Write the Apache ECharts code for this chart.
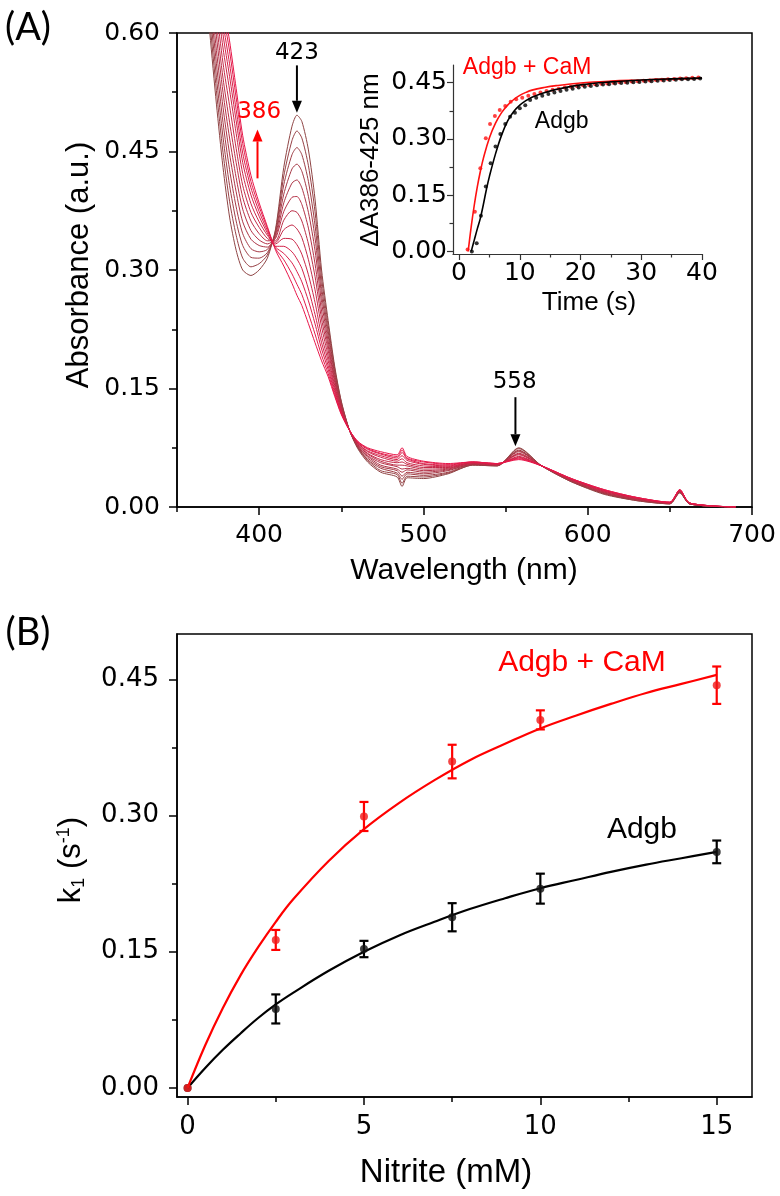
<!DOCTYPE html>
<html><head><meta charset="utf-8">
<script src="https://cdn.jsdelivr.net/npm/echarts@6/dist/echarts.min.js"></script>
<style>html,body{margin:0;padding:0;background:#fff}#c{width:780px;height:1196px}</style>
</head><body><div id="c"></div>
<script>
// ---------- Panel A: spectra ----------
const wavelengths = [366,370,374,378,382,386,390,395,400,405,410,415,420,423,426,430,434,438,442,446,450,455,460,466,474,484,487,490,500,515,530,545,558,572,590,610,630,650,656,662,690];
const spec0  = [0.70,0.60,0.51,0.43,0.367,0.325,0.300,0.293,0.300,0.315,0.352,0.43,0.482,0.496,0.488,0.452,0.39,0.30,0.236,0.178,0.134,0.097,0.074,0.057,0.044,0.038,0.026,0.037,0.036,0.042,0.053,0.052,0.075,0.052,0.032,0.016,0.008,0.004,0.018,0.004,0];
const spec1  = [0.714,0.615,0.527,0.449,0.387,0.344,0.315,0.304,0.308,0.319,0.350,0.419,0.464,0.476,0.467,0.432,0.374,0.290,0.230,0.175,0.133,0.097,0.075,0.059,0.046,0.041,0.030,0.039,0.038,0.043,0.053,0.052,0.074,0.052,0.032,0.017,0.008,0.004,0.018,0.004,0];
const spec2  = [0.727,0.631,0.544,0.468,0.407,0.362,0.331,0.316,0.315,0.322,0.347,0.408,0.446,0.455,0.446,0.412,0.357,0.279,0.223,0.171,0.131,0.097,0.076,0.060,0.049,0.043,0.035,0.042,0.040,0.044,0.054,0.053,0.072,0.052,0.033,0.017,0.009,0.004,0.019,0.004,0];
const spec3  = [0.741,0.646,0.561,0.487,0.427,0.380,0.346,0.327,0.323,0.326,0.345,0.396,0.428,0.434,0.425,0.393,0.341,0.269,0.217,0.168,0.129,0.097,0.076,0.062,0.051,0.046,0.039,0.044,0.042,0.046,0.054,0.053,0.071,0.052,0.033,0.018,0.009,0.005,0.019,0.004,0];
const spec4  = [0.754,0.661,0.578,0.506,0.447,0.399,0.361,0.339,0.331,0.329,0.342,0.385,0.410,0.414,0.404,0.373,0.325,0.259,0.210,0.164,0.128,0.097,0.077,0.064,0.053,0.048,0.044,0.047,0.044,0.047,0.054,0.053,0.070,0.052,0.033,0.018,0.009,0.005,0.019,0.004,0];
const spec5  = [0.768,0.677,0.596,0.525,0.467,0.417,0.377,0.350,0.338,0.333,0.340,0.374,0.392,0.393,0.383,0.353,0.308,0.248,0.204,0.161,0.126,0.097,0.078,0.065,0.056,0.051,0.048,0.049,0.046,0.048,0.055,0.053,0.068,0.052,0.034,0.019,0.010,0.005,0.020,0.004,0];
const spec6  = [0.781,0.692,0.613,0.543,0.487,0.436,0.392,0.362,0.346,0.337,0.337,0.363,0.375,0.373,0.362,0.333,0.292,0.238,0.198,0.158,0.125,0.097,0.079,0.067,0.058,0.053,0.053,0.052,0.048,0.049,0.055,0.054,0.067,0.052,0.034,0.019,0.010,0.005,0.020,0.005,0];
const spec7  = [0.795,0.707,0.630,0.562,0.508,0.454,0.407,0.373,0.354,0.340,0.335,0.351,0.357,0.352,0.341,0.313,0.275,0.228,0.191,0.154,0.123,0.097,0.080,0.068,0.060,0.056,0.057,0.054,0.050,0.050,0.056,0.054,0.066,0.052,0.035,0.020,0.011,0.005,0.021,0.005,0];
const spec8  = [0.808,0.722,0.647,0.581,0.528,0.473,0.422,0.384,0.361,0.344,0.333,0.340,0.339,0.332,0.320,0.294,0.259,0.217,0.185,0.151,0.122,0.097,0.081,0.070,0.063,0.058,0.061,0.056,0.052,0.051,0.056,0.054,0.064,0.052,0.035,0.020,0.011,0.005,0.021,0.005,0];
const spec9  = [0.820,0.736,0.662,0.598,0.545,0.489,0.436,0.395,0.368,0.347,0.330,0.330,0.323,0.314,0.302,0.276,0.244,0.208,0.179,0.148,0.120,0.097,0.081,0.071,0.065,0.060,0.065,0.059,0.054,0.052,0.056,0.054,0.063,0.052,0.035,0.021,0.011,0.006,0.021,0.005,0];
const spec10 = [0.831,0.748,0.675,0.613,0.561,0.503,0.448,0.404,0.374,0.350,0.329,0.321,0.309,0.298,0.285,0.261,0.232,0.200,0.174,0.145,0.119,0.097,0.082,0.073,0.067,0.062,0.069,0.061,0.055,0.053,0.057,0.055,0.062,0.052,0.036,0.021,0.012,0.006,0.022,0.005,0];
const spec11 = [0.841,0.760,0.689,0.627,0.577,0.518,0.460,0.412,0.380,0.353,0.327,0.313,0.295,0.282,0.269,0.245,0.219,0.192,0.169,0.142,0.118,0.097,0.083,0.074,0.068,0.064,0.072,0.062,0.057,0.054,0.057,0.055,0.061,0.052,0.036,0.022,0.012,0.006,0.022,0.005,0];
const spec12 = [0.85,0.77,0.70,0.64,0.59,0.53,0.47,0.42,0.385,0.355,0.325,0.305,0.283,0.268,0.255,0.232,0.208,0.185,0.165,0.14,0.117,0.097,0.083,0.075,0.07,0.066,0.075,0.064,0.058,0.055,0.057,0.055,0.06,0.052,0.036,0.022,0.012,0.006,0.022,0.005,0];
const spectra = [spec0,spec1,spec2,spec3,spec4,spec5,spec6,spec7,spec8,spec9,spec10,spec11,spec12];
const specColors = ['#8e4444','#964045','#9d3d45','#a53946','#ac3546','#b43147','#bb2e47','#c32a48','#ca2648','#d22249','#d91f49','#e11b4a','#e8174a'];
const specXTicks = [400,500,600,700];
const specXMinor = [350,450,550,650];
const specYTicks = [0,0.15,0.30,0.45,0.60];
const specYMinor = [0.075,0.225,0.375,0.525];

// ---------- Panel A inset: kinetics ----------
const camT = [1.4,2.6,3.5,4.4,5.1,5.9,6.7,7.6,8.5,9.4,10.4,11.4,12.4,13.4,14.4,15.4,16.4,17.4,18.4,19.4,20.4,21.4,22.4,23.4,24.4,25.4,26.4,27.4,28.4,29.4,30.4,31.4,32.4,33.4,34.4,35.4,36.4,37.4,38.4,39.4];
const camA = [0.005,0.106,0.222,0.302,0.34,0.361,0.377,0.388,0.399,0.406,0.41,0.415,0.42,0.424,0.428,0.431,0.434,0.437,0.439,0.441,0.443,0.444,0.446,0.447,0.448,0.45,0.451,0.452,0.453,0.454,0.455,0.456,0.457,0.458,0.459,0.46,0.461,0.462,0.463,0.464];
const adgbT = [2.1,2.9,3.6,4.4,5.2,6.0,6.8,7.6,8.4,9.2,10.0,10.9,11.7,12.7,13.7,14.7,15.7,16.7,17.7,18.7,19.7,20.7,21.7,22.7,23.7,24.7,25.7,26.7,27.7,28.7,29.7,30.7,31.7,32.7,33.7,34.7,35.7,36.7,37.7,38.7,39.7];
const adgbA = [0.0,0.022,0.095,0.173,0.235,0.28,0.313,0.34,0.359,0.37,0.382,0.39,0.404,0.41,0.415,0.42,0.424,0.428,0.431,0.434,0.437,0.439,0.441,0.443,0.445,0.446,0.448,0.449,0.45,0.451,0.452,0.453,0.454,0.455,0.456,0.457,0.458,0.459,0.459,0.46,0.461];
const camFitT = [1.5,2,2.5,3,3.5,4,5,6,7,8,9,10,11,12,14,16,20,25,30,35,40];
const camFitA = [0,0.066,0.123,0.172,0.213,0.248,0.303,0.342,0.37,0.39,0.405,0.416,0.424,0.43,0.437,0.442,0.449,0.454,0.457,0.46,0.462];
const adgbFitT = [2,2.5,3,3.5,4,4.5,5,6,7,8,9,10,11,12,14,16,20,25,30,35,40];
const adgbFitA = [0,0.03,0.06,0.088,0.125,0.165,0.2,0.26,0.31,0.348,0.373,0.39,0.402,0.411,0.423,0.432,0.444,0.452,0.457,0.46,0.462];
const insetXTicks = [0,10,20,30,40];
const insetXMinor = [5,15,25,35];
const insetYTicks = [0,0.15,0.30,0.45];
const insetYMinor = [0.075,0.225,0.375];

// ---------- Panel B: k1 vs nitrite ----------
const nitrite = [0,2.5,5,7.5,10,15];
const k1Adgb = [0,0.087,0.153,0.188,0.2195,0.26];
const errAdgb = [0,0.016,0.009,0.0155,0.0165,0.0125];
const k1CaM = [0,0.163,0.299,0.3595,0.4054,0.4436];
const errCaM = [0,0.011,0.016,0.0185,0.0105,0.0206];
const fitX = [0,0.5,1,1.5,2,2.5,3,4,5,6,7,8,9,10,11,12,13,14,15];
const fitCaM = [0,0.047,0.088,0.124,0.155,0.183,0.208,0.25,0.285,0.314,0.339,0.361,0.379,0.396,0.41,0.423,0.435,0.445,0.455];
const fitAdgb = [0,0.022,0.042,0.06,0.077,0.092,0.105,0.129,0.15,0.168,0.183,0.197,0.209,0.22,0.229,0.238,0.246,0.253,0.26];
const bXTicks = [0,5,10,15];
const bXMinor = [2.5,7.5,12.5];
const bYTicks = [0,0.15,0.30,0.45];
const bYMinor = [0.075,0.225,0.375];

// ---------- helpers ----------
const FT = 'DejaVu Sans';
const FA = 'Liberation Sans';
const zip = (a, b) => a.map((v, i) => [v, b[i]]);
const lineSt = (c, w) => ({color: c, width: w});

function majorAxis(kind, grid, min, max, ticks, tickLen, fontSize, margin, fmt, lineW, color) {
  return {
    type: 'value', gridIndex: grid, min: min, max: max,
    position: kind === 'x' ? 'bottom' : 'left',
    axisLine: {show: true, onZero: false, lineStyle: lineSt(color, lineW)},
    axisTick: {show: true, inside: false, customValues: ticks, length: tickLen, lineStyle: lineSt(color, lineW)},
    axisLabel: {show: true, customValues: ticks, margin: margin, fontSize: fontSize, fontFamily: FT, color: '#000', formatter: fmt},
    splitLine: {show: false}
  };
}
function minorAxis(kind, grid, min, max, ticks, tickLen, lineW, color) {
  return {
    type: 'value', gridIndex: grid, min: min, max: max,
    position: kind === 'x' ? 'bottom' : 'left',
    axisLine: {show: false, onZero: false},
    axisTick: {show: true, inside: false, customValues: ticks, length: tickLen, lineStyle: lineSt(color, lineW)},
    axisLabel: {show: false},
    splitLine: {show: false}
  };
}
const f2 = v => v.toFixed(2);
const f0 = v => String(Math.round(v));

function errRender(color) {
  return function (params, api) {
    const x = api.value(0), lo = api.value(1), hi = api.value(2);
    if (hi - lo <= 0) return null;
    const p1 = api.coord([x, hi]), p2 = api.coord([x, lo]);
    const w = 4.5;
    const st = {stroke: color, lineWidth: 2.2};
    return {type: 'group', children: [
      {type: 'line', shape: {x1: p1[0], y1: p1[1], x2: p2[0], y2: p2[1]}, style: st},
      {type: 'line', shape: {x1: p1[0] - w, y1: p1[1], x2: p1[0] + w, y2: p1[1]}, style: st},
      {type: 'line', shape: {x1: p2[0] - w, y1: p2[1], x2: p2[0] + w, y2: p2[1]}, style: st}
    ]};
  };
}

const series = [];
spectra.forEach((s, i) => {
  series.push({type: 'line', xAxisIndex: 0, yAxisIndex: 0, data: zip(wavelengths, s), showSymbol: false,
    smooth: 0.25, clip: true, lineStyle: {color: specColors[i], width: 1}, z: 2 + i * 0.01, silent: true});
});
// inset (series 13..16)
series.push({type: 'scatter', xAxisIndex: 2, yAxisIndex: 2, data: zip(camT, camA), symbol: 'circle', symbolSize: 4, itemStyle: {color: '#ff1010'}, z: 5});
series.push({type: 'line', xAxisIndex: 2, yAxisIndex: 2, data: zip(camFitT, camFitA), showSymbol: false, smooth: 0.4, lineStyle: {color: '#ff1010', width: 1.6}, z: 5});
series.push({type: 'scatter', xAxisIndex: 2, yAxisIndex: 2, data: zip(adgbT, adgbA), symbol: 'circle', symbolSize: 4, itemStyle: {color: '#000'}, z: 6});
series.push({type: 'line', xAxisIndex: 2, yAxisIndex: 2, data: zip(adgbFitT, adgbFitA), showSymbol: false, smooth: 0.4, lineStyle: {color: '#000', width: 1.6}, z: 6});
// panel B (series 17..)
series.push({type: 'line', xAxisIndex: 4, yAxisIndex: 4, data: zip(fitX, fitAdgb), showSymbol: false, smooth: 0.4, lineStyle: {color: '#000', width: 2.2}, z: 5});
series.push({type: 'custom', xAxisIndex: 4, yAxisIndex: 4, renderItem: errRender('#000'),
  data: nitrite.map((x, i) => [x, k1Adgb[i] - errAdgb[i], k1Adgb[i] + errAdgb[i]]), encode: {x: 0, y: [1, 2]}, z: 6});
series.push({type: 'scatter', xAxisIndex: 4, yAxisIndex: 4, data: zip(nitrite, k1Adgb), symbolSize: 8, itemStyle: {color: '#111'}, z: 7});
series.push({type: 'line', xAxisIndex: 4, yAxisIndex: 4, data: zip(fitX, fitCaM), showSymbol: false, smooth: 0.4, lineStyle: {color: '#ff0000', width: 2.2}, z: 8});
series.push({type: 'custom', xAxisIndex: 4, yAxisIndex: 4, renderItem: errRender('#ff0000'),
  data: nitrite.map((x, i) => [x, k1CaM[i] - errCaM[i], k1CaM[i] + errCaM[i]]), encode: {x: 0, y: [1, 2]}, z: 9});
series.push({type: 'scatter', xAxisIndex: 4, yAxisIndex: 4, data: zip(nitrite, k1CaM), symbolSize: 8, itemStyle: {color: '#f01818'}, z: 10});

const option = {
  animation: false,
  backgroundColor: '#fff',
  grid: [
    {left: 177, top: 33, width: 575, height: 474, show: true, borderColor: '#000', borderWidth: 1.5, backgroundColor: 'transparent'},
    {left: 453, top: 65, width: 249, height: 189, show: false},
    {left: 177, top: 634, width: 575, height: 463, show: true, borderColor: '#000', borderWidth: 1.5, backgroundColor: 'transparent'}
  ],
  xAxis: [
    majorAxis('x', 0, 350, 700, specXTicks, 8, 25, 16, f0, 1.5, '#000'),
    minorAxis('x', 0, 350, 700, specXMinor, 5, 1.5, '#000'),
    majorAxis('x', 1, -1, 40, insetXTicks, 6, 25, 7, f0, 1.2, '#333'),
    minorAxis('x', 1, -1, 40, insetXMinor, 3.5, 1.2, '#333'),
    majorAxis('x', 2, -0.3, 16, bXTicks, 8, 26, 17, f0, 1.5, '#000'),
    minorAxis('x', 2, -0.3, 16, bXMinor, 5, 1.5, '#000')
  ],
  yAxis: [
    majorAxis('y', 0, 0, 0.6, specYTicks, 8, 25, 17, f2, 1.5, '#000'),
    minorAxis('y', 0, 0, 0.6, specYMinor, 5, 1.5, '#000'),
    majorAxis('y', 1, -0.007, 0.497, insetYTicks, 6, 25, 6, f2, 1.2, '#333'),
    minorAxis('y', 1, -0.007, 0.497, insetYMinor, 3.5, 1.2, '#333'),
    majorAxis('y', 2, -0.01, 0.5, bYTicks, 8, 26, 18, f2, 1.5, '#000'),
    minorAxis('y', 2, -0.01, 0.5, bYMinor, 5, 1.5, '#000')
  ],
  series: series
};

const chart = echarts.init(document.getElementById('c'), null, {renderer: 'canvas'});
chart.setOption(option);

// ---------- annotations (positioned through the axes) ----------
const px = (si, p) => chart.convertToPixel({seriesIndex: si}, p);
function txt(p, text, size, color, family, extra) {
  return Object.assign({type: 'text', x: p[0], y: p[1], z: 50,
    style: {text: text, fontSize: size, fontFamily: family, fill: color,
      align: 'center', verticalAlign: 'middle', textAlign: 'center', textVerticalAlign: 'middle'}}, extra || {});
}
function arrow(p0, p1, color) {
  const dir = Math.sign(p1[1] - p0[1]);
  const hl = 12, hw = 5;
  const base = p1[1] - dir * hl;
  return [
    {type: 'line', z: 50, shape: {x1: p0[0], y1: p0[1], x2: p1[0], y2: base}, style: {stroke: color, lineWidth: 2}},
    {type: 'polygon', z: 50, shape: {points: [[p1[0], p1[1]], [p1[0] - hw, base], [p1[0] + hw, base]]}, style: {fill: color}}
  ];
}
const g = [];
// panel A peak labels
g.push(txt(px(0, [423, 0.575]), '423', 23, '#000', FT));
g.push(...arrow(px(0, [423, 0.559]), px(0, [423, 0.499]), '#000'));
g.push(txt(px(0, [400, 0.5]), '386', 23, '#ff0000', FT));
g.push(...arrow(px(0, [399, 0.416]), px(0, [399, 0.478]), '#ff0000'));
g.push(txt(px(0, [555.5, 0.158]), '558', 23, '#000', FT));
g.push(...arrow(px(0, [556, 0.139]), px(0, [556, 0.077]), '#000'));
// inset labels
g.push(txt(px(13, [11.2, 0.489]), 'Adgb + CaM', 23, '#ff0000', FA));
g.push(txt(px(13, [16.9, 0.345]), 'Adgb', 23, '#000', FA));
// panel B labels
g.push(txt(px(17, [11.18, 0.468]), 'Adgb + CaM', 30, '#ff0000', FA));
g.push(txt(px(17, [12.88, 0.284]), 'Adgb', 30, '#000', FA));
// axis titles and panel letters
g.push(txt([28, 28], '(A)', 38, '#000', 'Lato'));
g.push(txt([28, 633], '(B)', 38, '#000', 'Lato'));
g.push(txt([464, 571], 'Wavelength (nm)', 30, '#000', FA));
g.push(txt([79, 265], 'Absorbance (a.u.)', 31, '#000', FA, {rotation: Math.PI / 2}));
g.push(txt([589, 303], 'Time (s)', 26, '#000', FA));
g.push(txt([371, 160], 'ΔA386-425 nm', 26, '#000', FA, {rotation: Math.PI / 2}));
g.push(txt([446, 1173], 'Nitrite (mM)', 33, '#000', FA));
g.push({type: 'text', x: 71, y: 860, rotation: Math.PI / 2, z: 50,
  style: {text: '{m|k}{s|1}{m| (s}{p|-1}{m|)}', fill: '#000', fontFamily: FA,
    align: 'center', verticalAlign: 'middle', textAlign: 'center', textVerticalAlign: 'middle',
    rich: {
      m: {fontSize: 31, fontFamily: FA, fill: '#000'},
      s: {fontSize: 18, fontFamily: FA, fill: '#000', padding: [16, 0, 0, 0]},
      p: {fontSize: 18, fontFamily: FA, fill: '#000', padding: [0, 0, 14, 0]}
    }}});
chart.setOption({graphic: {elements: g}});
</script></body></html>
